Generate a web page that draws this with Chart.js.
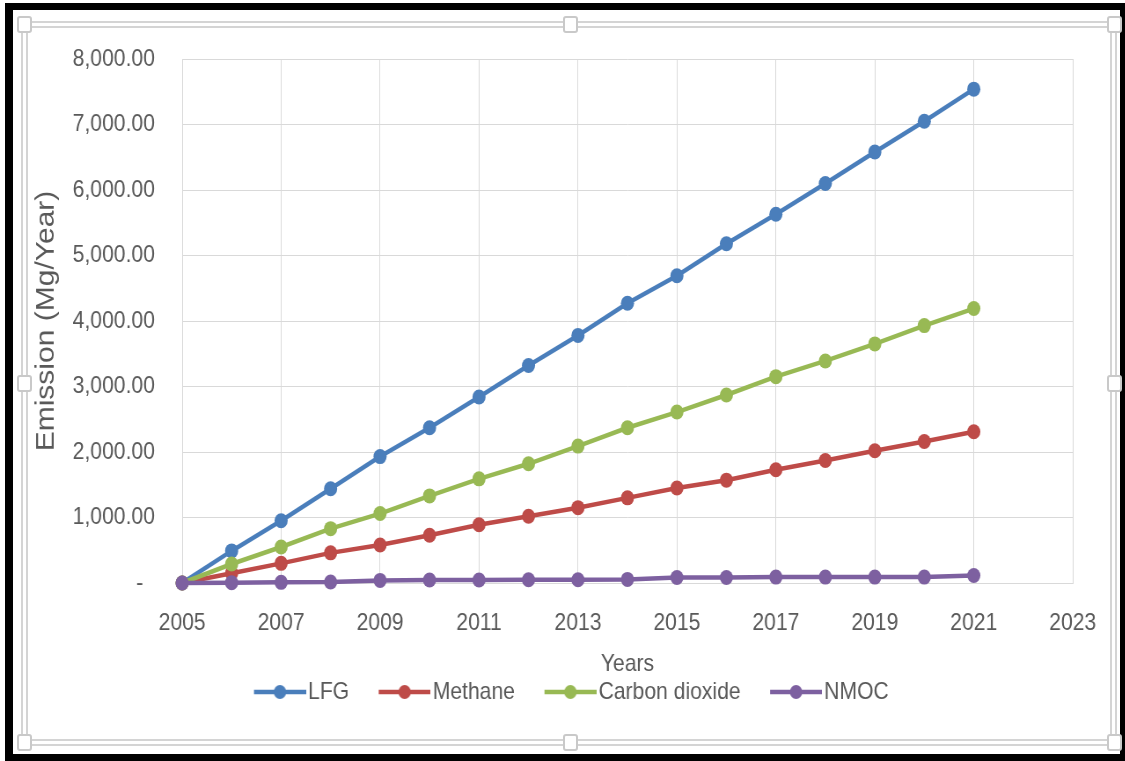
<!DOCTYPE html>
<html>
<head>
<meta charset="utf-8">
<script src="https://cdn.jsdelivr.net/npm/chart.js@4.4.1/dist/chart.umd.min.js"></script>
<style>
  html, body { margin: 0; padding: 0; background: #fff; overflow: hidden; }
  #wrap { position: relative; width: 1125px; height: 761px; }
  #c { position: absolute; left: 0; top: 0; transform: scaleX(0.88); transform-origin: 0 0; }
  .frame { position: absolute; box-sizing: border-box; }
  #outer { left: 5px; top: 3px; width: 1120px; height: 758px;
           border-style: solid; border-color: #000; border-width: 7px 5px 7px 8px; }
  #sel1 { left: 21px; top: 21px; width: 1096px; height: 725px; border: 2px solid #d4d4d4; }
  #sel2 { left: 26px; top: 26px; width: 1086px; height: 715px; border: 2px solid #d4d4d4; }
  .h { position: absolute; width: 15px; height: 17px; background: #fff; box-sizing: border-box;
       border: 2px solid #c9c9c9; border-radius: 3px; }
</style>
</head>
<body>
<div id="wrap">
  <canvas id="c" width="1278" height="761" style="width:1278px;height:761px"></canvas>
  <div class="frame" id="outer"></div>
  <div class="frame" id="sel1"></div>
  <div class="frame" id="sel2"></div>
  <div class="h" style="left:17px;top:16px"></div>
  <div class="h" style="left:563px;top:16px"></div>
  <div class="h" style="left:1107px;top:16px"></div>
  <div class="h" style="left:17px;top:375px"></div>
  <div class="h" style="left:1107px;top:375px"></div>
  <div class="h" style="left:17px;top:734px"></div>
  <div class="h" style="left:563px;top:734px"></div>
  <div class="h" style="left:1107px;top:734px"></div>
</div>
<script>
// Landfill gas emissions per year (Mg/Year)
const years = [2005, 2006, 2007, 2008, 2009, 2010, 2011, 2012, 2013, 2014, 2015, 2016, 2017, 2018, 2019, 2020, 2021];
const lfg = [0, 490, 950, 1440, 1930, 2370, 2840, 3320, 3780, 4270, 4690, 5180, 5630, 6100, 6580, 7050, 7540];
const methane = [0, 150, 300, 460, 580, 730, 890, 1020, 1150, 1300, 1450, 1570, 1730, 1870, 2020, 2160, 2310];
const carbonDioxide = [0, 290, 550, 830, 1060, 1330, 1590, 1820, 2090, 2370, 2610, 2870, 3150, 3390, 3650, 3930, 4190];
const nmoc = [0, 5, 10, 15, 40, 45, 45, 50, 50, 55, 85, 85, 90, 90, 90, 90, 115];

const seriesNames = ['LFG', 'Methane', 'Carbon dioxide', 'NMOC'];
const seriesColors = ['#4a7ebb', '#be4b48', '#98b954', '#7d60a0'];

const xTickValues = [2005, 2007, 2009, 2011, 2013, 2015, 2017, 2019, 2021, 2023];
const yTickValues = [0, 1000, 2000, 3000, 4000, 5000, 6000, 7000, 8000];

const TEXT = '#595959';
const GRID = '#d9d9d9';
const FONT = '"Liberation Sans", Arial, sans-serif';

// Legend swatch: a short line with a dot in its middle
function legendSwatch(color) {
  const cv = document.createElement('canvas');
  cv.width = 99; cv.height = 24;
  const g = cv.getContext('2d');
  g.strokeStyle = color; g.lineWidth = 4.5; g.lineCap = 'butt';
  g.beginPath(); g.moveTo(40, 12); g.lineTo(99, 12); g.stroke();
  g.fillStyle = color;
  g.beginPath(); g.arc(69.5, 12, 7, 0, Math.PI * 2); g.fill();
  return cv;
}
const swatches = seriesColors.map(legendSwatch);

// Nudge the legend row a little to the right of the canvas centre
const legendNudge = {
  id: 'legendNudge',
  afterLayout(chart) {
    if (chart.legend) { chart.legend.left += 7; chart.legend.right += 7; }
  }
};

const allSeries = [lfg, methane, carbonDioxide, nmoc];
const datasets = allSeries.map((vals, i) => ({
  label: seriesNames[i],
  data: years.map((yr, k) => ({ x: yr, y: vals[k] })),
  borderColor: seriesColors[i],
  backgroundColor: seriesColors[i],
  borderWidth: 4.5,
  pointRadius: 7.5,
  pointBorderWidth: 0,
  pointHoverRadius: 7.5,
  tension: 0,
  clip: false,
  order: seriesNames.length - i
}));

new Chart(document.getElementById('c'), {
  type: 'line',
  data: { datasets },
  plugins: [legendNudge],
  options: {
    responsive: false,
    animation: false,
    devicePixelRatio: 1,
    layout: { padding: { left: 35, right: 59, top: 59, bottom: 47 } },
    plugins: {
      tooltip: { enabled: false },
      legend: {
        position: 'bottom',
        labels: {
          usePointStyle: true,
          pointStyleWidth: 80,
          padding: 3,
          color: TEXT,
          font: { family: FONT, size: 24 },
          sort: (a, b) => a.datasetIndex - b.datasetIndex,
          generateLabels(chart) {
            const items = Chart.defaults.plugins.legend.labels.generateLabels(chart);
            items.forEach(it => { it.pointStyle = swatches[it.datasetIndex]; });
            return items;
          }
        }
      }
    },
    scales: {
      x: {
        type: 'linear',
        min: 2005, max: 2023,
        afterBuildTicks(scale) { scale.ticks = xTickValues.map(v => ({ value: v })); },
        afterFit(scale) { scale.height = 94; scale.paddingLeft = 0; scale.paddingRight = 0; },
        grid: { color: GRID, lineWidth: 1, drawTicks: false },
        border: { color: GRID, width: 1 },
        ticks: {
          color: TEXT, padding: 26, maxRotation: 0,
          font: { family: FONT, size: 24 },
          callback: v => String(v)
        },
        title: {
          display: true, text: 'Years', color: TEXT,
          font: { family: FONT, size: 24 }, padding: { top: 0, bottom: -2 }
        }
      },
      y: {
        min: 0, max: 8000,
        afterBuildTicks(scale) { scale.ticks = yTickValues.map(v => ({ value: v })); },
        afterFit(scale) { scale.width = 172; scale.paddingTop = 0; scale.paddingBottom = 0; },
        grid: { color: GRID, lineWidth: 1, drawTicks: false },
        border: { color: GRID, width: 1 },
        ticks: {
          color: TEXT, padding: 31,
          font: { family: FONT, size: 24 },
          callback: v => v === 0 ? '-  ' : v.toLocaleString('en-US', { minimumFractionDigits: 2, maximumFractionDigits: 2 })
        },
        title: {
          display: true, text: 'Emission (Mg/Year)', color: TEXT,
          font: { family: FONT, size: 30 }, padding: { top: 0, bottom: 0 }
        }
      }
    }
  }
});
</script>
</body>
</html>
